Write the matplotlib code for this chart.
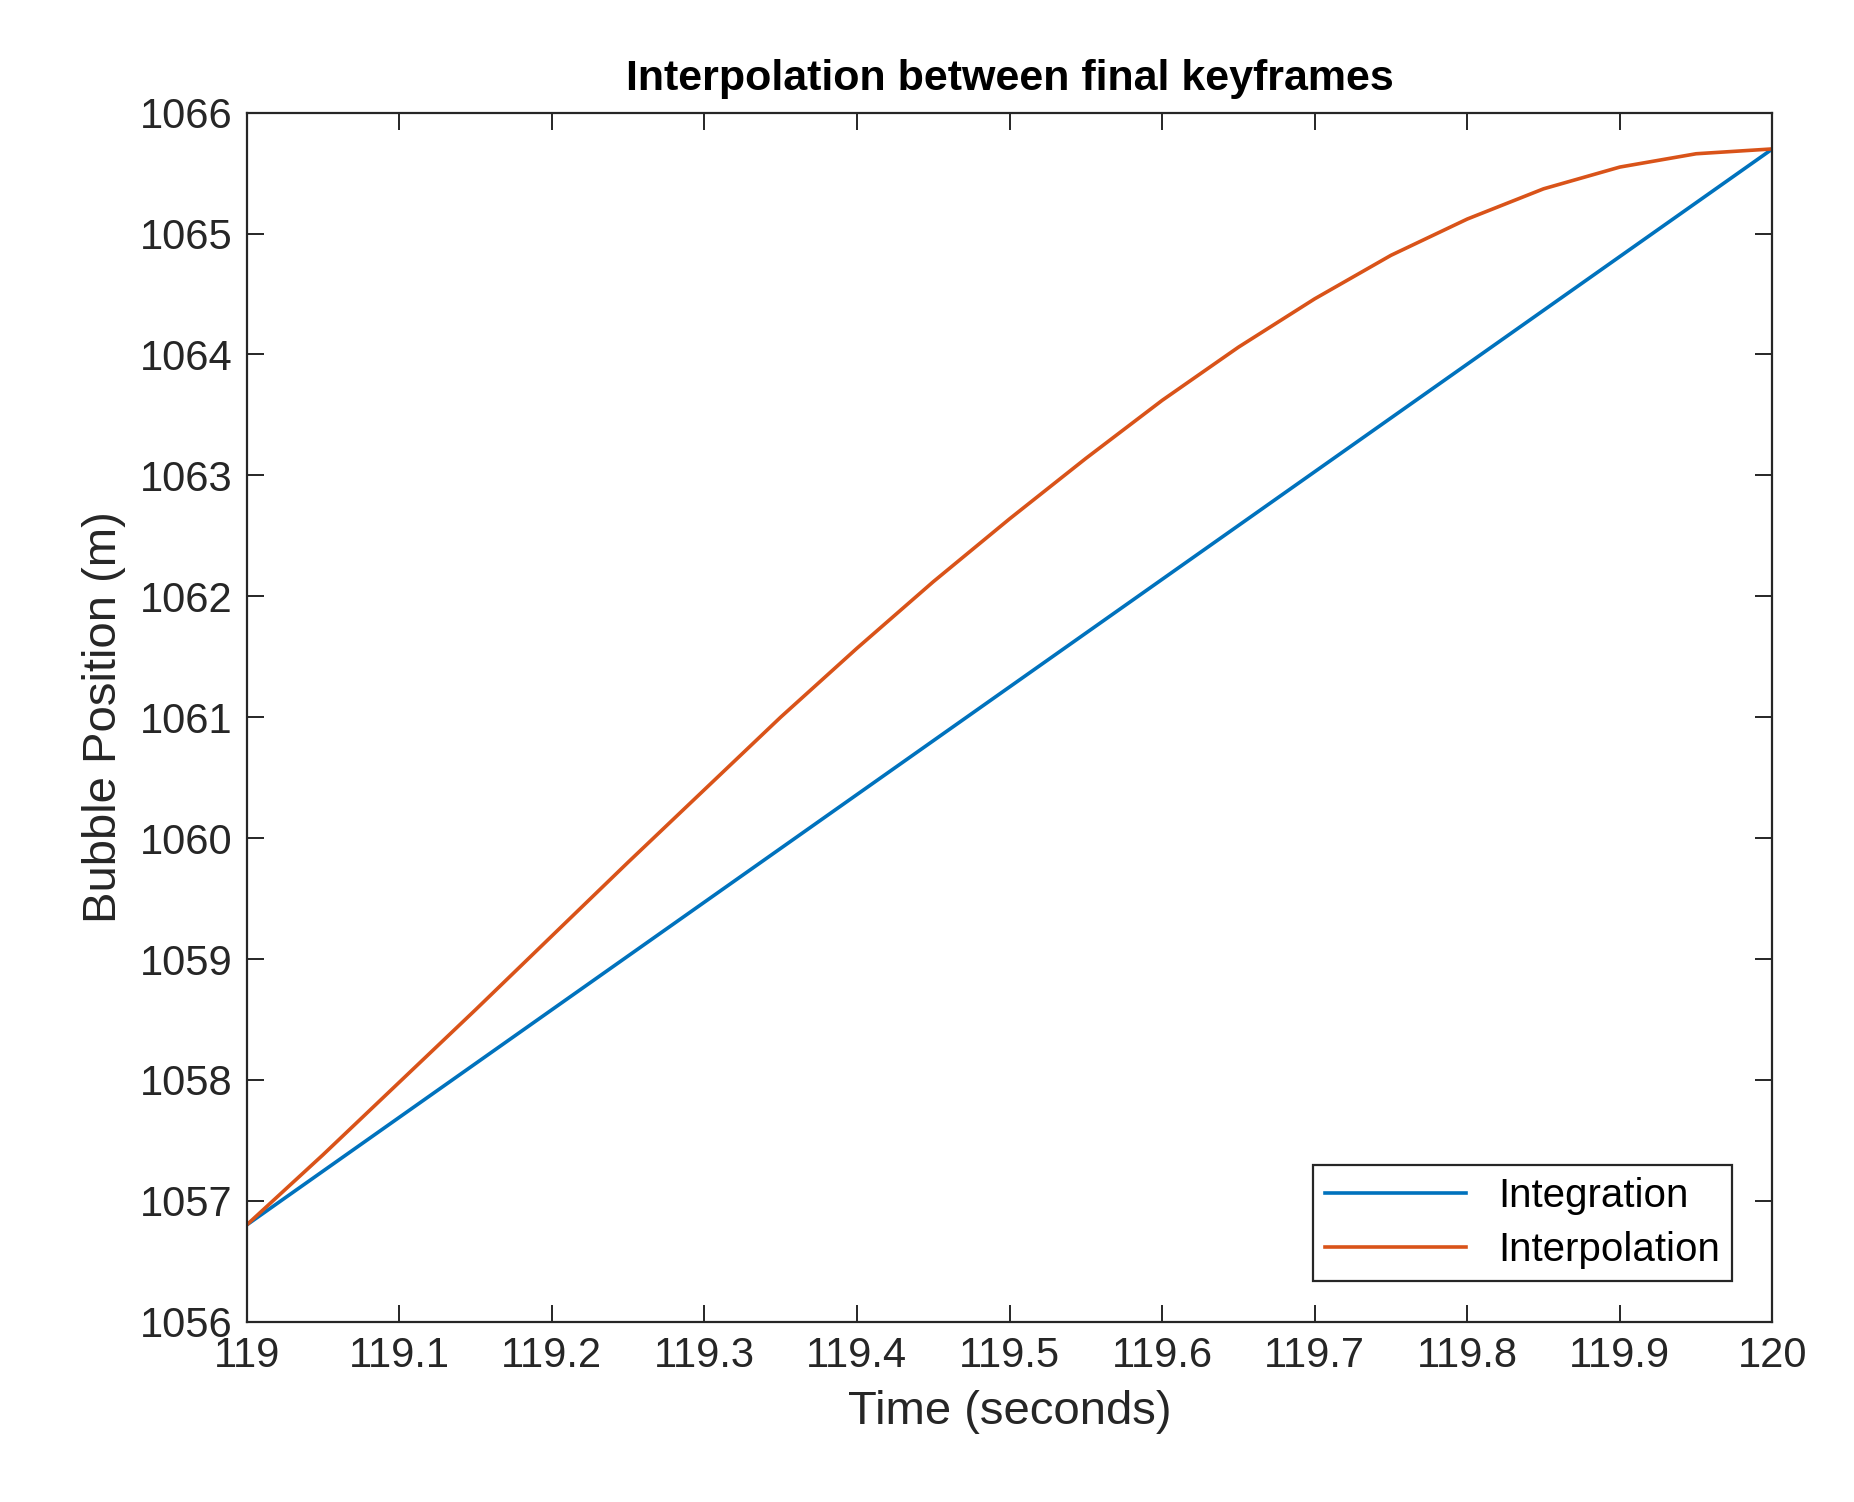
import matplotlib.pyplot as plt
import numpy as np

plt.rcParams['font.family'] = ['Liberation Sans', 'DejaVu Sans']

# Values
t_interp = [119.0, 119.05, 119.1, 119.15, 119.2, 119.25, 119.3, 119.35, 119.4, 119.45,
            119.5, 119.55, 119.6, 119.65, 119.7, 119.75, 119.8, 119.85, 119.9, 119.95, 120.0]
pos_interp = [1056.8, 1057.38, 1057.98, 1058.58, 1059.19, 1059.8, 1060.4, 1061.0, 1061.57, 1062.12,
              1062.64, 1063.14, 1063.62, 1064.06, 1064.46, 1064.82, 1065.12, 1065.37, 1065.55, 1065.66, 1065.7]
t_integ = [119.0, 120.0]
pos_integ = [1056.8, 1065.7]

fig = plt.figure(figsize=(18.54, 15.02), dpi=100)
ax = fig.add_axes([0.133, 0.12, 0.823, 0.805])

ax.plot(t_integ, pos_integ, color='#0072BD', lw=2.6, label='Integration')
ax.plot(t_interp, pos_interp, color='#D95319', lw=2.6, label='Interpolation')

ax.set_xlim(119, 120)
ax.set_ylim(1056, 1066)
ax.set_xticks(np.arange(119, 120.01, 0.1))
ax.set_xticklabels(['119', '119.1', '119.2', '119.3', '119.4', '119.5', '119.6',
                    '119.7', '119.8', '119.9', '120'])
ax.set_yticks(range(1056, 1067))
ax.tick_params(direction='in', top=True, right=True, labelsize=30, length=12,
               width=1.4, colors='#262626', pad=10)
for s in ax.spines.values():
    s.set_linewidth(1.6)
    s.set_color('#262626')

ax.set_xlabel('Time (seconds)', fontsize=34, color='#262626', labelpad=10)
ax.set_ylabel('Bubble Position (m)', fontsize=34, color='#262626', labelpad=10)
ax.set_title('Interpolation between final keyframes', fontsize=31, fontweight='bold', pad=16)

leg = ax.legend(loc='lower right', fontsize=29, fancybox=False, framealpha=1,
                edgecolor='#262626', borderaxespad=1.0, handlelength=3.5,
                borderpad=0.3, labelspacing=0.4)
leg.get_frame().set_linewidth(1.6)

plt.savefig('out.png')
